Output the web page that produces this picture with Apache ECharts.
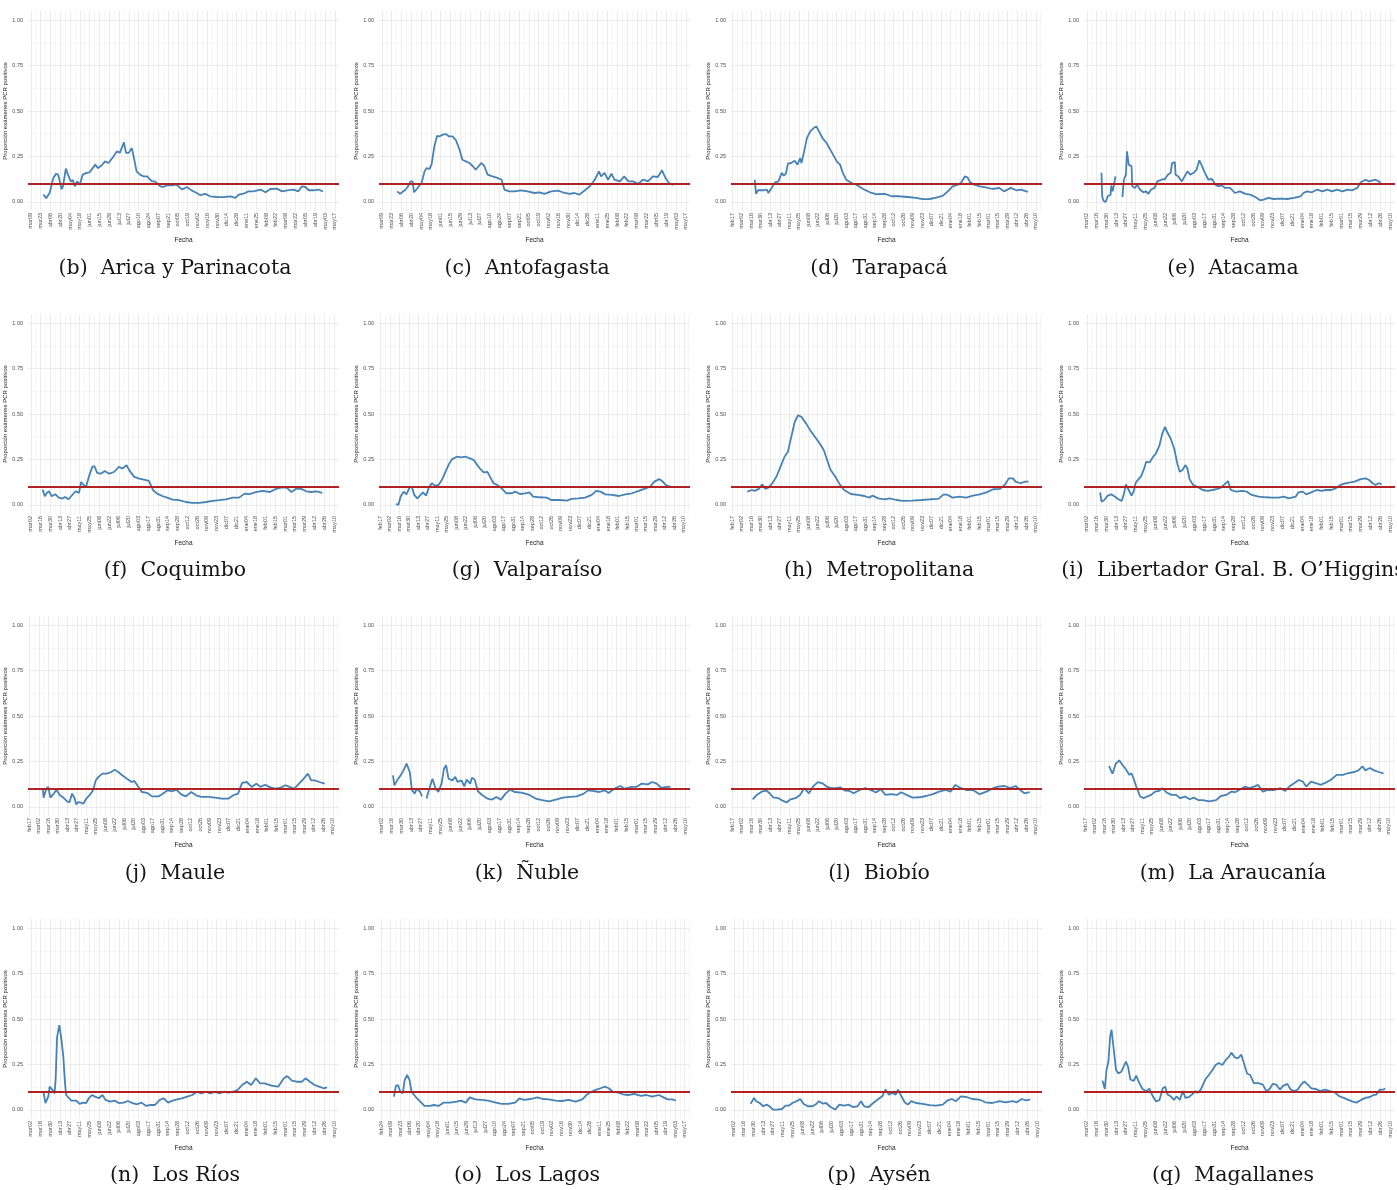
<!DOCTYPE html>
<html>
<head>
<meta charset="utf-8">
<script src="https://cdn.jsdelivr.net/npm/echarts@6/dist/echarts.min.js"></script>
<style>
  html, body { margin: 0; padding: 0; background: #ffffff; }
  #chart { width: 1397px; height: 1190px; }
</style>
</head>
<body>
<div id="chart"></div>
<script>
// ---- DATA (x = days since 2020-01-01, y = proportion of positive PCR tests) ----
const arica = [[86,.04],[90,.02],[95,.05],[100,.13],[104,.155],[107,.15],[112,.07],[114,.086],[118,.183],[121,.15],[125,.113],[128,.12],[131,.086],[134,.113],[138,.095],[142,.15],[148,.16],[152,.163],[160,.205],[164,.186],[169,.2],[174,.223],[179,.214],[186,.25],[191,.278],[195,.27],[201,.327],[204,.27],[208,.27],[212,.296],[214,.265],[219,.168],[224,.15],[229,.14],[234,.14],[241,.113],[245,.113],[253,.086],[257,.082],[262,.091],[269,.091],[276,.095],[284,.068],[291,.082],[298,.062],[305,.049],[310,.037],[317,.044],[324,.031],[334,.027],[343,.026],[353,.031],[360,.022],[365,.04],[372,.046],[379,.058],[386,.058],[396,.068],[403,.053],[410,.071],[419,.073],[427,.058],[434,.064],[443,.068],[450,.058],[455,.086],[460,.082],[465,.064],[472,.064],[479,.068],[485,.057]];
const antofagasta = [[90,.058],[94,.044],[97,.053],[102,.068],[105,.082],[109,.113],[112,.113],[114,.053],[118,.071],[121,.086],[125,.108],[129,.168],[132,.186],[136,.181],[139,.205],[143,.305],[147,.364],[150,.36],[155,.37],[160,.373],[164,.36],[169,.36],[174,.338],[179,.287],[183,.232],[188,.223],[193,.214],[198,.196],[202,.177],[210,.214],[214,.2],[219,.15],[226,.14],[233,.132],[239,.122],[243,.068],[250,.058],[257,.058],[267,.064],[276,.058],[286,.049],[293,.053],[300,.044],[310,.058],[320,.062],[326,.053],[336,.044],[343,.049],[350,.04],[358,.064],[365,.086],[372,.122],[378,.168],[381,.14],[386,.16],[391,.122],[396,.155],[400,.122],[408,.113],[414,.14],[420,.113],[427,.113],[434,.1],[441,.122],[448,.113],[455,.14],[462,.137],[468,.174],[473,.132],[478,.104],[483,.095],[487,.099]];
const tarapaca = [[80,.122],[82,.044],[85,.064],[93,.064],[98,.068],[100,.049],[105,.077],[110,.108],[115,.113],[120,.16],[123,.144],[126,.155],[129,.21],[134,.214],[139,.227],[143,.205],[147,.241],[149,.214],[153,.278],[157,.351],[162,.388],[167,.406],[171,.415],[175,.388],[180,.351],[186,.324],[193,.278],[201,.223],[206,.205],[210,.16],[215,.122],[223,.104],[230,.095],[240,.071],[250,.053],[260,.042],[272,.044],[282,.031],[294,.031],[306,.027],[318,.022],[328,.015],[338,.016],[348,.024],[358,.035],[365,.058],[372,.086],[380,.095],[385,.108],[390,.14],[394,.135],[398,.108],[404,.095],[412,.086],[421,.08],[431,.071],[441,.077],[448,.058],[458,.077],[466,.064],[473,.068],[483,.055]];
const atacama = [[82,.16],[83,.031],[85,.005],[88,0],[91,.031],[95,.04],[96,.09],[98,.058],[100,.095],[102,.14],[107,null],[112,.027],[114,.122],[117,.15],[118.5,.278],[121,.205],[125,.196],[126,.086],[130,.077],[133,.095],[137,.068],[142,.053],[146,.058],[149,.044],[153,.068],[158,.077],[162,.113],[168,.122],[173,.126],[177,.15],[181,.16],[183,.214],[187,.219],[188,.15],[192,.14],[197,.113],[199,.104],[205,.168],[209,.15],[214,.16],[218,.177],[222,.229],[225,.205],[230,.16],[235,.122],[240,.126],[245,.095],[249,.086],[254,.091],[259,.077],[266,.077],[273,.049],[280,.058],[288,.044],[295,.04],[302,.027],[309,.009],[314,.013],[321,.022],[328,.016],[338,.018],[348,.016],[357,.022],[367,.031],[371,.049],[376,.058],[383,.053],[391,.068],[398,.058],[405,.068],[412,.058],[419,.068],[427,.058],[434,.068],[441,.064],[448,.077],[453,.108],[460,.122],[465,.113],[470,.119],[474,.122],[479,.113],[483,.095]];
const coquimbo = [[78,.084],[81,.048],[84,.066],[87,.075],[91,.048],[96,.059],[101,.04],[106,.035],[110,.044],[115,.031],[120,.053],[125,.075],[130,.066],[133,.126],[137,.108],[140,.099],[144,.154],[149,.209],[152,.214],[156,.176],[161,.172],[167,.187],[173,.172],[180,.181],[187,.209],[192,.2],[198,.218],[202,.19],[209,.154],[216,.145],[223,.139],[230,.132],[236,.081],[242,.062],[249,.049],[256,.04],[264,.029],[273,.026],[283,.016],[292,.011],[302,.011],[312,.016],[321,.022],[331,.026],[340,.031],[350,.04],[359,.04],[367,.062],[374,.059],[383,.07],[393,.077],[403,.071],[412,.088],[419,.095],[427,.095],[434,.071],[441,.09],[448,.088],[455,.075],[462,.071],[470,.075],[478,.066]];
const valparaiso = [[70,.005],[73.5,0],[77,.046],[81.5,.073],[85.5,.058],[90,.095],[93.5,.1],[97,.055],[101.5,.036],[105.5,.051],[110,.069],[114.5,.051],[118.5,.095],[123,.119],[128,.106],[133,.11],[138.5,.142],[143,.182],[148,.223],[153,.252],[160,.265],[166.5,.261],[173,.265],[180,.255],[185,.246],[190,.219],[194,.2],[199.5,.179],[205,.182],[209.5,.15],[214,.119],[219.5,.11],[226,.091],[233,.064],[241,.064],[246,.073],[253,.06],[260.5,.064],[267,.069],[272.5,.046],[282.5,.042],[292.5,.04],[299,.027],[312.5,.027],[322.5,.024],[329,.033],[339,.036],[349,.04],[359,.055],[365.5,.077],[372,.073],[379,.058],[389,.055],[399,.049],[408.5,.058],[418.5,.064],[428.5,.077],[438.5,.091],[445,.1],[451.5,.128],[458.5,.142],[464,.128],[468,.11],[475,.1],[481.5,.097]];
const metropolitana = [[69,.073],[76,.082],[80,.077],[86,.088],[91,.113],[96,.088],[100,.095],[106,.119],[112,.155],[119,.219],[124,.265],[129,.292],[134,.374],[139,.456],[144,.493],[149,.484],[156,.447],[162,.41],[169,.374],[176,.338],[182,.301],[187,.246],[192,.192],[199,.155],[206,.11],[212,.082],[222,.06],[232,.055],[242,.049],[249,.04],[254,.051],[262,.036],[272,.031],[279,.036],[289,.027],[299,.022],[312,.024],[326,.027],[339,.031],[351,.033],[359,.058],[365,.055],[372,.04],[382,.046],[392,.04],[402,.051],[412,.058],[422,.069],[432,.086],[442,.088],[449,.11],[455,.146],[461,.146],[465,.128],[472,.119],[479,.128],[484,.128]];
const ohiggins = [[80,.069],[82,.018],[86,.027],[91,.051],[96,.058],[101,.046],[106,.031],[111,.022],[114,.058],[117,.113],[121,.082],[125,.051],[128,.073],[131,.122],[136,.146],[139,.16],[143,.2],[146,.237],[151,.234],[156,.265],[160,.283],[165,.328],[169,.392],[173,.429],[176,.401],[181,.365],[186,.31],[191,.219],[194,.182],[198,.192],[202,.219],[205,.2],[208,.142],[213,.11],[219,.1],[227,.082],[234,.077],[241,.082],[248,.088],[253,.095],[263,.131],[267,.082],[275,.073],[283,.077],[290,.073],[297,.055],[307,.046],[317,.042],[326,.04],[336,.04],[343,.046],[350,.036],[360,.046],[364,.069],[370,.073],[375,.058],[382,.069],[390,.082],[397,.077],[403,.082],[411,.082],[417,.091],[424,.11],[431,.119],[438,.124],[444,.128],[453,.142],[460,.146],[465,.137],[470,.119],[474,.11],[479,.119],[483,.113]];
const maule = [[67,.1],[68,.051],[72,.1],[75,.11],[78,.051],[83,.073],[87,.095],[92,.064],[96,.055],[102,.033],[106,.024],[110,.073],[114,.046],[116,.015],[120,.027],[127,.018],[131,.046],[137,.069],[141,.091],[145,.146],[149,.165],[155,.183],[161,.183],[168,.192],[173,.205],[178,.192],[184,.174],[191,.155],[198,.137],[202,.143],[208,.11],[213,.082],[221,.077],[228,.058],[238,.058],[244,.073],[251,.091],[258,.086],[264,.095],[271,.069],[278,.058],[286,.082],[293,.064],[301,.055],[311,.055],[321,.051],[331,.046],[341,.046],[348,.064],[355,.073],[361,.132],[368,.137],[375,.11],[382,.128],[388,.11],[395,.122],[401,.11],[409,.1],[418,.106],[425,.119],[431,.11],[438,.1],[445,.128],[452,.155],[458,.183],[463,.146],[468,.146],[475,.137],[483,.128]];
const nuble = [[77,.174],[79,.119],[83,.146],[88,.174],[92,.201],[96.5,.238],[101,.192],[104,.095],[108,.073],[111,.1],[116,.082],[118.5,.058],[122,null],[125,.046],[129,.1],[133.5,.155],[138,.1],[142,.082],[146.5,.128],[150,.21],[153,.229],[156.5,.155],[162,.146],[166,.165],[169.5,.137],[175,.146],[179,.113],[182.5,.15],[187.5,.128],[190,.161],[194,.15],[198.5,.086],[205,.064],[212,.046],[218.5,.04],[225,.055],[231.5,.04],[238,.073],[244.5,.095],[251,.082],[261,.079],[271,.068],[281,.046],[290.5,.037],[300.5,.031],[310,.04],[320,.051],[330,.055],[340,.058],[350,.073],[356,.091],[362.5,.088],[372.5,.082],[380,.091],[385.5,.077],[393.5,.1],[402,.115],[408.5,.1],[418,.11],[425,.11],[433,.128],[441.5,.124],[448,.137],[454.5,.128],[461,.104],[468,.11],[474,.11]];
const biobio = [[77,.042],[83,.066],[90,.084],[97,.09],[102,.075],[107,.053],[115,.048],[122,.033],[127,.024],[133,.042],[140,.048],[147,.066],[153,.103],[160,.075],[166,.112],[173,.136],[180,.13],[186,.112],[193,.103],[200,.103],[206,.108],[213,.09],[220,.088],[226,.075],[235,.093],[243,.103],[251,.093],[259,.079],[266,.097],[273,.066],[281,.07],[290,.066],[296,.081],[304,.066],[313,.051],[323,.053],[333,.06],[343,.07],[352,.084],[362,.093],[369,.084],[376,.121],[382,.108],[392,.093],[402,.093],[412,.07],[422,.084],[432,.103],[439,.112],[449,.115],[457,.103],[465,.115],[472,.093],[478,.075],[486,.081]];
const araucania = [[82,.225],[87,.183],[92,.238],[97,.256],[102,.229],[106,.212],[112,.176],[115,.185],[118,.158],[123,.103],[128,.057],[133,.048],[138,.057],[144,.066],[150,.084],[156,.088],[161,.103],[167,.079],[174,.066],[181,.066],[187,.048],[194,.057],[201,.042],[207,.051],[214,.037],[220,.037],[230,.031],[240,.037],[247,.06],[255,.066],[262,.084],[268,.081],[276,.097],[283,.112],[289,.103],[296,.112],[302,.121],[309,.084],[316,.093],[326,.093],[335,.103],[342,.088],[348,.112],[355,.13],[362,.148],[368,.139],[373,.112],[380,.139],[388,.13],[394,.121],[401,.132],[409,.148],[418,.176],[427,.176],[434,.185],[444,.192],[450,.201],[456,.223],[460,.201],[467,.214],[473,.201],[480,.192],[487,.185]];
const losRios = [[79,.1],[82,.037],[86,.073],[88,.128],[92,.11],[95,.091],[96.5,.165],[98.6,.4],[101.8,.466],[104.4,.4],[107.6,.29],[109.6,.165],[111.5,.082],[114,.073],[119,.051],[126,.051],[131,.033],[135.5,.04],[140,.037],[144,.064],[148.5,.082],[153,.073],[158.4,.064],[163.5,.082],[168,.055],[174.5,.046],[181,.051],[187.5,.037],[194,.04],[200,.049],[206.5,.037],[213,.031],[219.5,.04],[226,.022],[232,.027],[238.6,.027],[245.6,.055],[251,.064],[257.5,.04],[264,.051],[270.5,.058],[277,.064],[285,.073],[292,.082],[298.5,.1],[305,.091],[311.6,.1],[318,.091],[324.5,.1],[331,.091],[337.5,.1],[344,.095],[350.5,.1],[357,.11],[363.4,.137],[370,.155],[376.4,.137],[383,.174],[389,.146],[395.5,.146],[405.5,.133],[415,.128],[423,.174],[428,.186],[434.6,.161],[441,.155],[449,.155],[454,.174],[460.5,.155],[467,.137],[473.5,.128],[480,.119],[485,.124]];
const losLagos = [[73,.073],[76,.132],[79,.137],[82.5,.1],[86,.091],[89,.165],[92.5,.192],[96,.165],[99,.1],[106,.068],[112,.046],[118,.022],[126,.022],[132,.027],[139,.022],[146,.04],[155.5,.04],[165.5,.046],[172,.051],[179,.04],[185,.069],[193,.058],[202,.055],[212,.051],[222,.042],[232,.033],[242,.033],[252,.04],[258,.064],[265,.055],[275,.06],[285,.069],[293,.06],[301.5,.058],[311.5,.051],[321,.049],[331,.055],[341,.046],[351,.058],[359,.088],[364.5,.1],[371,.11],[378,.119],[384.5,.128],[390,.119],[396,.1],[404,.095],[411,.086],[419,.082],[427.6,.088],[437.5,.077],[445.5,.082],[454,.073],[464,.082],[471,.069],[477,.058],[484,.058],[489,.051]];
const aysen = [[85,.033],[90,.066],[93,.048],[98,.038],[103,.02],[108,.029],[112,.02],[117,.002],[123,.002],[130,.005],[135,.024],[140,.024],[145,.038],[151,.048],[156,.06],[161,.033],[167,.02],[173.5,.02],[179,.033],[183,.048],[188,.035],[193,.038],[199.5,.016],[206,.002],[212,.029],[219,.024],[225,.029],[231.5,.016],[238,.02],[243,.048],[247.6,.02],[254,.016],[260.5,.038],[267,.057],[273.4,.075],[278,.112],[283,.084],[288,.093],[292.7,.084],[296,.112],[300.3,.079],[305.5,.042],[310,.029],[315,.048],[321.6,.038],[331,.033],[341,.026],[350,.024],[360,.029],[367,.053],[373,.06],[379,.048],[386,.075],[394,.071],[402,.06],[412,.057],[421,.042],[431,.038],[441,.048],[450,.042],[460,.048],[466,.042],[473,.06],[479,.053],[485,.057]];
const magallanes = [[83.5,.161],[86.7,.115],[89.3,.222],[92,.266],[94.4,.405],[96.4,.441],[99.6,.331],[102.8,.22],[106,.201],[110.5,.21],[113.7,.238],[117,.266],[120,.238],[123.4,.167],[128,.159],[131.7,.189],[136,.149],[140.8,.115],[146,.103],[150.4,.117],[155.5,.075],[160,.046],[165,.055],[169.7,.119],[173,.128],[176.7,.084],[181,.075],[185.7,.055],[189.5,.075],[194,.055],[198.6,.103],[202.2,.066],[206.7,.07],[211.3,.084],[216.5,.103],[219.5,.093],[224,.112],[230.5,.167],[235.6,.192],[240.8,.22],[245.3,.247],[249.8,.258],[255,.247],[260,.275],[264.6,.293],[267.8,.315],[272.9,.289],[277.4,.284],[282,.304],[285.8,.258],[290.3,.2],[294.8,.192],[300,.147],[306.4,.147],[312.8,.139],[318,.103],[322.5,.115],[327,.143],[332,.139],[337.3,.112],[341.8,.132],[348,.143],[352.6,.112],[357.8,.103],[363,.112],[367.5,.139],[372,.156],[377.2,.139],[382.3,.119],[388.8,.115],[395.2,.103],[401.7,.112],[409.4,.103],[415.8,.097],[422.3,.075],[428.7,.066],[435,.055],[441.7,.046],[446.8,.04],[453.3,.055],[459.7,.066],[466.1,.071],[470.6,.081],[475.2,.084],[480.3,.112],[485.4,.112],[488,.117]];

const panelData = [arica, antofagasta, tarapaca, atacama, coquimbo, valparaiso, metropolitana, ohiggins,
                   maule, nuble, biobio, araucania, losRios, losLagos, aysen, magallanes];
const captions = ["(b)  Arica y Parinacota", "(c)  Antofagasta", "(d)  Tarapacá", "(e)  Atacama",
                  "(f)  Coquimbo", "(g)  Valparaíso", "(h)  Metropolitana", "(i)  Libertador Gral. B. O’Higgins",
                  "(j)  Maule", "(k)  Ñuble", "(l)  Biobío", "(m)  La Araucanía",
                  "(n)  Los Ríos", "(o)  Los Lagos", "(p)  Aysén", "(q)  Magallanes"];
// first and last x tick (2-week breaks) of each panel
const firstTick = ["2020-03-09","2020-03-09","2020-02-17","2020-03-02","2020-03-02","2020-02-17","2020-02-17","2020-03-02",
                   "2020-02-17","2020-03-02","2020-02-17","2020-02-17","2020-03-02","2020-02-24","2020-03-02","2020-03-02"];
const lastTick  = ["2021-05-17","2021-05-17","2021-05-10","2021-05-10","2021-05-10","2021-05-10","2021-05-10","2021-05-10",
                   "2021-05-10","2021-05-10","2021-05-10","2021-05-10","2021-05-10","2021-05-17","2021-05-10","2021-05-10"];
// x-axis limits (with ggplot-like expansion)
const xMin = ["2020-03-05","2020-03-05","2020-02-15","2020-02-27","2020-02-27","2020-02-15","2020-02-15","2020-02-27",
              "2020-02-15","2020-02-27","2020-02-15","2020-02-15","2020-02-27","2020-02-21","2020-02-27","2020-02-27"];
const xMax = ["2021-05-23","2021-05-23","2021-05-19","2021-05-17","2021-05-17","2021-05-19","2021-05-19","2021-05-17",
              "2021-05-19","2021-05-17","2021-05-19","2021-05-19","2021-05-17","2021-05-25","2021-05-17","2021-05-17"];
const meses = ["ene","feb","mar","abr","may","jun","jul","ago","sep","oct","nov","dic"];
const yTicks = [0, 0.25, 0.5, 0.75, 1];
const yTickLabels = ["0.00", "0.25", "0.50", "0.75", "1.00"];
const yMinorTicks = [0.125, 0.375, 0.625, 0.875];
const umbral = 0.1;

// ---- helpers ----
const EPOCH = Date.UTC(2020, 0, 1);
const DAY = 86400000;
function dia(s) { const p = s.split('-').map(Number); return Math.round((Date.UTC(p[0], p[1] - 1, p[2]) - EPOCH) / DAY); }
function etiqueta(v) {
  const t = new Date(EPOCH + Math.round(v) * DAY);
  return meses[t.getUTCMonth()] + String(t.getUTCDate()).padStart(2, '0');
}

// ---- layout ----
const colLeft = [28, 379, 731, 1084];
const plotW = 311;
const rowTop = [11, 314, 616, 919];
const plotH = 200;
const capX = [175, 527, 879, 1233];
const capY = [269, 571, 874, 1176];

const grids = [], xAxes = [], yAxes = [], series = [], graphics = [];
const axisFont = 'Liberation Sans, Arial, sans-serif';

panelData.forEach((data, i) => {
  const r = Math.floor(i / 4), c = i % 4;
  grids.push({ left: colLeft[c], top: rowTop[r], width: plotW, height: plotH });
  const f0 = dia(firstTick[i]), f1 = dia(lastTick[i]);
  const mn = dia(xMin[i]), mx = dia(xMax[i]);
  const major = [], minor = [];
  for (let d = f0; d <= f1; d += 14) major.push(d);
  for (let d = f0 - 7; d <= f1 + 7; d += 14) if (d > mn && d < mx) minor.push(d);

  xAxes.push({
    gridIndex: i, type: 'value', min: mn, max: mx, position: 'bottom',
    axisLine: { show: false },
    axisTick: { show: false, customValues: major },
    axisLabel: { customValues: major, formatter: etiqueta, rotate: 90, fontSize: 5.5, color: '#4d4d4d',
                 margin: 2, fontFamily: axisFont },
    splitLine: { show: true, lineStyle: { color: '#e2e2e2', width: 0.7 } },
    name: 'Fecha', nameLocation: 'middle', nameGap: 26,
    nameTextStyle: { fontSize: 6.5, color: '#222', fontFamily: axisFont }
  });
  xAxes.push({
    gridIndex: i, type: 'value', min: mn, max: mx, position: 'bottom',
    axisLine: { show: false },
    axisTick: { show: false, customValues: minor },
    axisLabel: { show: false },
    splitLine: { show: true, lineStyle: { color: '#ececec', width: 0.5 } }
  });
  yAxes.push({
    gridIndex: i, type: 'value', min: -0.05, max: 1.05,
    axisLine: { show: false },
    axisTick: { show: false, customValues: yTicks },
    axisLabel: { customValues: yTicks, formatter: v => yTickLabels[yTicks.indexOf(v)] ?? v.toFixed(2),
                 fontSize: 5.5, color: '#4d4d4d', margin: 5, fontFamily: axisFont },
    splitLine: { show: true, lineStyle: { color: '#e2e2e2', width: 0.7 } },
    name: 'Proporción exámenes PCR positivos', nameLocation: 'middle', nameGap: 17,
    nameTextStyle: { fontSize: 6, color: '#222', fontFamily: axisFont }
  });
  yAxes.push({
    gridIndex: i, type: 'value', min: -0.05, max: 1.05,
    axisLine: { show: false },
    axisTick: { show: false, customValues: yMinorTicks },
    axisLabel: { show: false },
    splitLine: { show: true, lineStyle: { color: '#efefef', width: 0.5 } }
  });
  series.push({
    type: 'line', xAxisIndex: 2 * i, yAxisIndex: 2 * i,
    data: data.map(p => [p[0], p[1] === null ? '-' : p[1]]),
    showSymbol: false, connectNulls: false, silent: true,
    lineStyle: { color: '#4682b4', width: 1.8 },
    markLine: {
      silent: true, symbol: 'none', label: { show: false },
      lineStyle: { color: '#b22222', width: 2.2, type: 'solid' },
      data: [{ yAxis: umbral }]
    }
  });
  graphics.push({
    type: 'text', x: capX[c], y: capY[r],
    style: { text: captions[i], font: '20.5px "DejaVu Serif"', fill: '#151515', align: 'center', verticalAlign: 'middle' }
  });
});

const chart = echarts.init(document.getElementById('chart'), null, { renderer: 'canvas' });
chart.setOption({
  backgroundColor: '#ffffff',
  animation: false,
  grid: grids,
  xAxis: xAxes,
  yAxis: yAxes,
  series: series,
  graphic: graphics
});
</script>
</body>
</html>
